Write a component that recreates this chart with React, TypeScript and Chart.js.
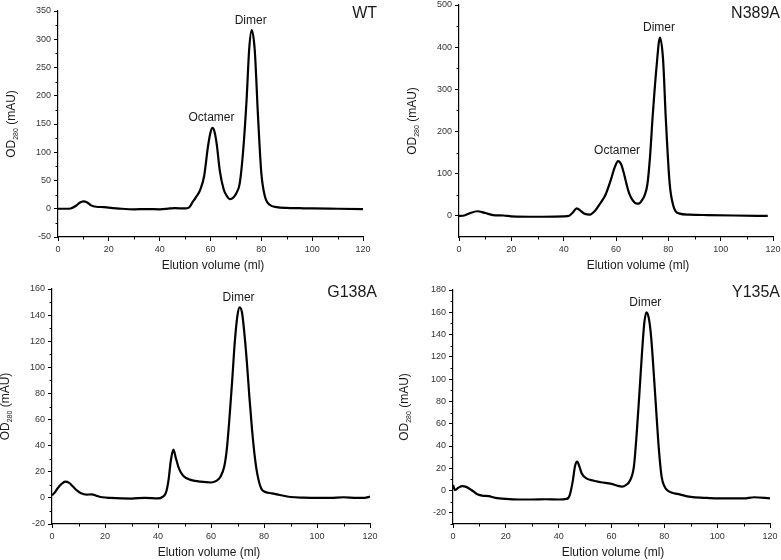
import React, { useEffect, useRef } from 'react';
import { Chart, registerables } from 'chart.js';
Chart.register(...registerables);

const W = 781;
const H = 560;
const FONT = "'Liberation Sans', Arial, sans-serif";

// ---------- DATA ----------
const xTickValues = [0, 20, 40, 60, 80, 100, 120];
const xMinorValues = [10, 30, 50, 70, 90, 110];

// WT
const wtVolume = [0, 3, 5, 7, 8.5, 10, 11.5, 13, 15, 18, 20, 25, 30, 35, 40, 44, 46, 50, 51.5, 53, 54.5, 56, 57.5, 59, 60, 60.8, 61.6, 62.4, 63.7, 65.2, 66.5, 67.6, 69, 70.2, 71.5, 72.8, 74.2, 75.2, 76.2, 77.4, 78.7, 80, 81.4, 83.3, 86, 90, 95, 100, 110, 120];
const wtOD = [0, 0, 0.5, 5, 10.5, 13, 11, 6, 3.5, 3, 2, 0, -1, -0.5, -1, 0.5, 1, 0.5, 2, 12, 22, 34, 58, 110, 135, 143, 136, 116, 66, 34, 22, 17, 20, 28, 45, 100, 193, 281, 316, 281, 163, 63, 22, 7, 3, 1.5, 1, 0.5, 0, -0.5];
const wtYTicks = [-50, 0, 50, 100, 150, 200, 250, 300, 350];
const wtYMinor = [-25, 25, 75, 125, 175, 225, 275, 325];
const wtLabels = ['Octamer', 'Dimer'];
const wtLabelVolume = [60.8, 76.2];
const wtLabelOD = [143, 316];

// N389A
const nVolume = [0, 2, 4, 7, 10, 13, 17, 20, 30, 40, 42, 43.5, 45, 46.5, 48, 50, 52, 54, 56, 58, 59.5, 60.8, 62, 63, 64, 65, 66.5, 68, 69, 70, 71, 72, 73, 74, 75.5, 76.8, 78, 79, 80.5, 82, 84, 88, 95, 105, 118];
const nOD = [0, 1, 6, 11, 7, 2, 1, -1, -2, -1, 0, 8, 18, 12, 5, 3, 12, 30, 50, 85, 115, 130, 122, 101, 76, 54, 36, 29, 30, 38, 50, 75, 140, 235, 354, 423, 370, 235, 77, 22, 6, 3, 2, 1, 0];
const nYTicks = [0, 100, 200, 300, 400, 500];
const nYMinor = [50, 150, 250, 350, 450];
const nLabels = ['Octamer', 'Dimer'];
const nLabelVolume = [60.8, 76.8];
const nLabelOD = [130, 423];

// G138A
const gVolume = [0, 1, 2, 3.5, 5, 6.5, 8, 9.5, 11, 13, 15, 17, 19, 22, 30, 35, 40, 41.5, 43, 44, 44.8, 45.8, 46.8, 48, 49.5, 52, 56, 60, 62, 63.5, 65, 66, 67, 68, 69, 70, 70.8, 71.7, 72.5, 73.5, 74.5, 75.5, 76.5, 77.5, 79, 80.5, 83, 86, 90, 95, 100, 105, 110, 115, 118, 120];
const gOD = [2, 4, 7, 10.5, 12.5, 11.5, 8.5, 5.5, 3.5, 2.5, 2.7, 1.5, 0.5, 0, -0.5, 0, -0.3, 0.5, 4, 14, 28, 37, 30, 22, 17, 14, 12.4, 11.8, 13, 16, 24, 38, 62, 90, 120, 140, 146, 142, 128, 105, 77, 52, 32, 18, 7, 4.5, 3.5, 2.2, 0.7, 0.2, 0, 0, 0.5, 0, 0, 1];
const gYTicks = [-20, 0, 20, 40, 60, 80, 100, 120, 140, 160];
const gYMinor = [-10, 10, 30, 50, 70, 90, 110, 130, 150];
const gLabels = ['Dimer'];
const gLabelVolume = [70.8];
const gLabelOD = [146];

// Y135A
const yVolume = [0, 0.8, 2, 3.5, 5, 7, 9, 11, 13.5, 16, 20, 25, 30, 35, 40, 43, 44.2, 45.3, 46.2, 47, 47.8, 48.8, 50.5, 53, 56, 60, 62, 64, 65.5, 67, 68.5, 69.5, 70.5, 71.5, 72.4, 73.2, 74.1, 75, 76, 77, 78, 79, 80, 81, 83, 85, 90, 95, 100, 110, 114, 120];
const yOD = [5, 0.5, 2.5, 4, 3.3, 0.5, -3, -4.5, -5, -6.5, -7.5, -8, -8, -7.8, -8, -7.5, -4, 8, 22, 26, 22, 15, 11, 9, 7.5, 6, 4.5, 3.5, 5, 9, 22, 50, 85, 122, 150, 160, 155, 138, 105, 69, 35, 12, 4, 0.5, -2, -3, -5.7, -6.5, -7, -7, -6, -7];
const yYTicks = [-20, 0, 20, 40, 60, 80, 100, 120, 140, 160, 180];
const yYMinor = [-30, -10, 10, 30, 50, 70, 90, 110, 130, 150, 170];
const yLabels = ['Dimer'];
const yLabelVolume = [73.2];
const yLabelOD = [160];

// ---------- PANELS ----------
interface PanelSpec {
  name: string;
  volume: number[];
  od: number[];
  yMin: number;
  yMax: number;
  yTicks: number[];
  yMinor: number[];
  labels: string[];
  labelVolume: number[];
  labelOD: number[];
  area: { left: number; right: number; top: number; bottom: number };
  nameRight: number;
  nameY: number;
  xTitleX: number;
  yTitleX: number;
}

const panels: PanelSpec[] = [
  {
    name: 'WT', volume: wtVolume, od: wtOD, yMin: -50, yMax: 350, yTicks: wtYTicks, yMinor: wtYMinor,
    labels: wtLabels, labelVolume: wtLabelVolume, labelOD: wtLabelOD,
    area: { left: 58, right: 363, top: 11, bottom: 237 }, nameRight: 377, nameY: 14, xTitleX: 213, yTitleX: 12,
  },
  {
    name: 'N389A', volume: nVolume, od: nOD, yMin: -50, yMax: 500, yTicks: nYTicks, yMinor: nYMinor,
    labels: nLabels, labelVolume: nLabelVolume, labelOD: nLabelOD,
    area: { left: 459, right: 773, top: 5, bottom: 237 }, nameRight: 780, nameY: 14, xTitleX: 638, yTitleX: 413,
  },
  {
    name: 'G138A', volume: gVolume, od: gOD, yMin: -20, yMax: 160, yTicks: gYTicks, yMinor: gYMinor,
    labels: gLabels, labelVolume: gLabelVolume, labelOD: gLabelOD,
    area: { left: 52, right: 370, top: 289, bottom: 524 }, nameRight: 377, nameY: 293, xTitleX: 209, yTitleX: 6,
  },
  {
    name: 'Y135A', volume: yVolume, od: yOD, yMin: -30, yMax: 180, yTicks: yYTicks, yMinor: yYMinor,
    labels: yLabels, labelVolume: yLabelVolume, labelOD: yLabelOD,
    area: { left: 453, right: 770, top: 290, bottom: 524 }, nameRight: 780, nameY: 293, xTitleX: 613, yTitleX: 405,
  },
];

const YW = 40; // y-axis box width
const XH = 20; // x-axis box height

function Panel({ spec }: { spec: PanelSpec }) {
  const ref = useRef<HTMLCanvasElement>(null);
  useEffect(() => {
    if (!ref.current) return;
    const a = spec.area;
    const textPlugin = {
      id: 'panelText',
      afterDraw(chart: any) {
        const ctx = chart.ctx;
        const xs = chart.scales.x;
        const ys = chart.scales.y;
        ctx.save();
        // minor ticks
        ctx.strokeStyle = '#000';
        ctx.lineWidth = 1;
        ctx.beginPath();
        for (const v of xMinorValues) {
          const px = Math.round(xs.getPixelForValue(v)) + 0.5;
          ctx.moveTo(px, a.bottom);
          ctx.lineTo(px, a.bottom + 2.5);
        }
        for (const v of spec.yMinor) {
          const py = Math.round(ys.getPixelForValue(v)) + 0.5;
          ctx.moveTo(a.left, py);
          ctx.lineTo(a.left - 2.5, py);
        }
        ctx.stroke();

        ctx.fillStyle = '#1a1a1a';
        // peak labels
        ctx.font = `12px ${FONT}`;
        ctx.textAlign = 'center';
        ctx.textBaseline = 'bottom';
        spec.labels.forEach((t, i) => {
          const px = xs.getPixelForValue(spec.labelVolume[i]);
          const py = ys.getPixelForValue(spec.labelOD[i]);
          ctx.fillText(t, px - 1, py - 4);
        });
        // panel name
        ctx.font = `16px ${FONT}`;
        ctx.textAlign = 'right';
        ctx.textBaseline = 'middle';
        ctx.fillText(spec.name, spec.nameRight, spec.nameY);
        // x title
        ctx.font = `12px ${FONT}`;
        ctx.textAlign = 'center';
        ctx.textBaseline = 'middle';
        ctx.fillText('Elution volume (ml)', spec.xTitleX, a.bottom + 29);
        // y title with subscript
        const cy = (a.top + a.bottom) / 2;
        ctx.translate(spec.yTitleX, cy);
        ctx.rotate(-Math.PI / 2);
        ctx.textAlign = 'left';
        ctx.textBaseline = 'middle';
        const f1 = `12px ${FONT}`;
        const f2 = `7px ${FONT}`;
        ctx.font = f1;
        const wOD = ctx.measureText('OD').width;
        const wRest = ctx.measureText(' (mAU)').width;
        ctx.font = f2;
        const wSub = ctx.measureText('280').width;
        const total = wOD + wSub + wRest;
        let x0 = -total / 2;
        ctx.font = f1;
        ctx.fillText('OD', x0, 0);
        x0 += wOD;
        ctx.font = f2;
        ctx.fillText('280', x0, 4);
        x0 += wSub;
        ctx.font = f1;
        ctx.fillText(' (mAU)', x0, 0);
        ctx.restore();
      },
    };

    const chart = new Chart(ref.current, {
      type: 'line',
      data: {
        datasets: [
          {
            data: spec.volume.map((v, i) => ({ x: v, y: spec.od[i] })),
            borderColor: '#000',
            borderWidth: 2.2,
            pointRadius: 0,
            fill: false,
            cubicInterpolationMode: 'monotone',
          },
        ],
      },
      options: {
        responsive: false,
        maintainAspectRatio: false,
        animation: false,
        layout: {
          padding: { left: a.left - YW, right: W - a.right, top: a.top, bottom: H - a.bottom - XH },
        },
        plugins: { legend: { display: false }, tooltip: { enabled: false }, title: { display: false } },
        scales: {
          x: {
            type: 'linear',
            min: 0,
            max: 120,
            afterBuildTicks: (s: any) => {
              s.ticks = xTickValues.map((v) => ({ value: v }));
            },
            afterFit: (s: any) => {
              s.height = XH;
              s.paddingLeft = 0; s.paddingRight = 0; s.paddingTop = 0; s.paddingBottom = 0;
            },
            grid: { drawOnChartArea: false, drawTicks: true, tickLength: 4, color: '#000', lineWidth: 1 },
            border: { display: true, color: '#000', width: 1.2 },
            ticks: { font: { family: FONT, size: 9 }, color: '#333', padding: 3, maxRotation: 0, autoSkip: false },
          },
          y: {
            type: 'linear',
            min: spec.yMin,
            max: spec.yMax,
            afterBuildTicks: (s: any) => {
              s.ticks = spec.yTicks.map((v) => ({ value: v }));
            },
            afterFit: (s: any) => {
              s.width = YW;
              s.paddingLeft = 0; s.paddingRight = 0; s.paddingTop = 0; s.paddingBottom = 0;
            },
            grid: { drawOnChartArea: false, drawTicks: true, tickLength: 4, color: '#000', lineWidth: 1 },
            border: { display: true, color: '#000', width: 1.2 },
            ticks: { font: { family: FONT, size: 9 }, color: '#333', padding: 3, autoSkip: false },
          },
        },
      } as any,
      plugins: [textPlugin],
    });
    return () => chart.destroy();
  }, [spec]);
  return (
    <canvas
      ref={ref}
      width={W}
      height={H}
      style={{ position: 'absolute', left: 0, top: 0, width: W, height: H }}
    />
  );
}

export default function App() {
  return (
    <div style={{ position: 'absolute', left: 0, top: 0, width: W, height: H, background: '#fff' }}>
      {panels.map((p) => (
        <Panel key={p.name} spec={p} />
      ))}
    </div>
  );
}
